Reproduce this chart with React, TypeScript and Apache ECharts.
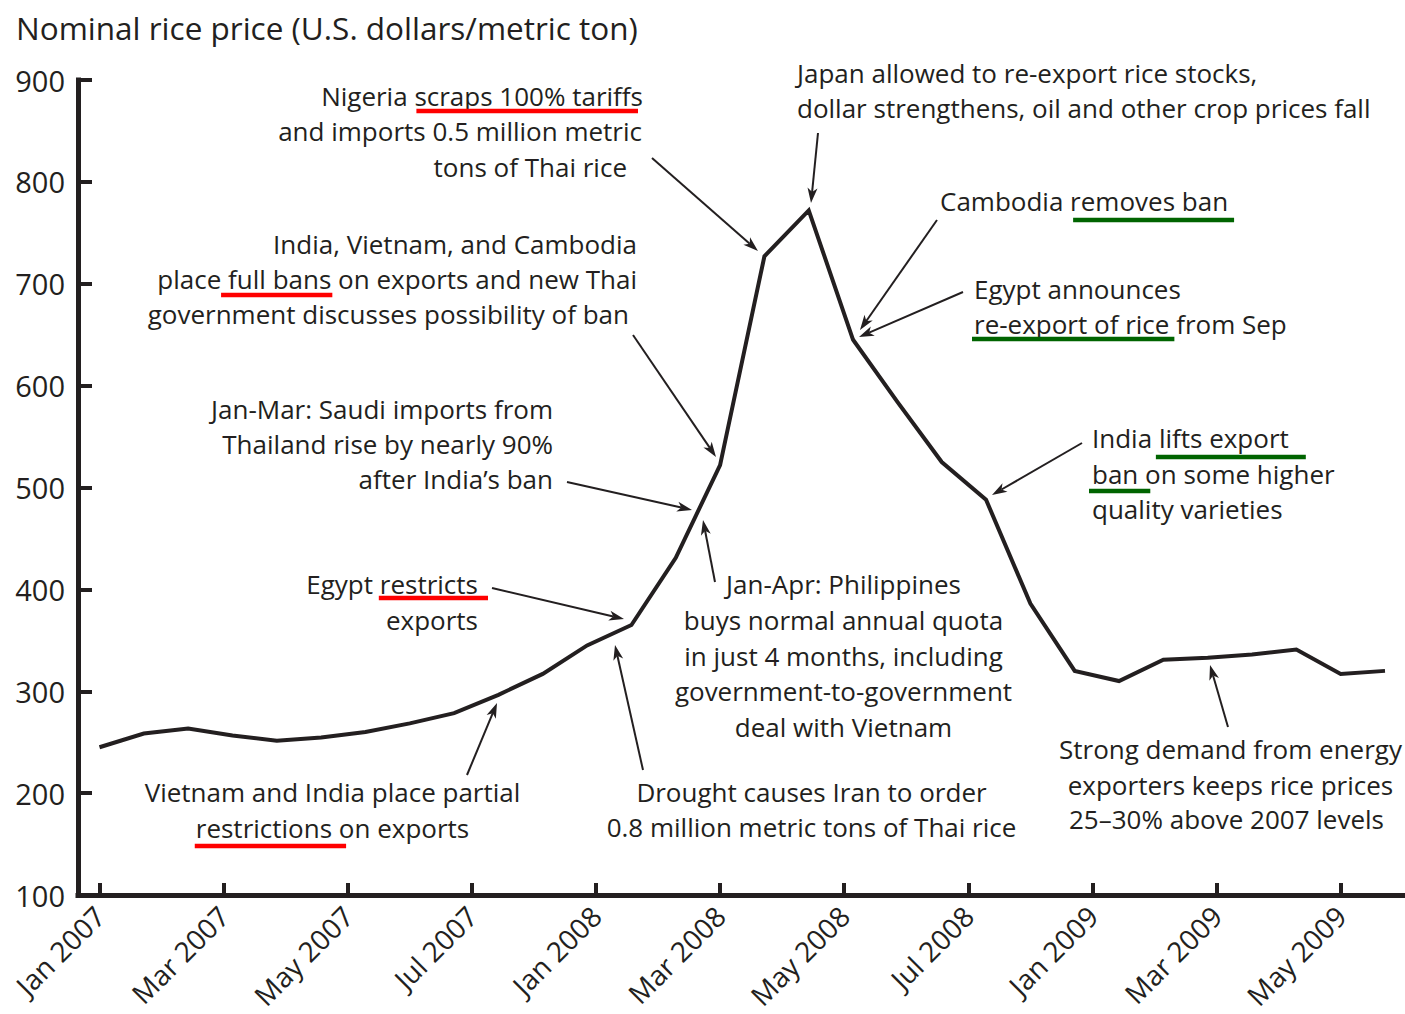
import React, { useEffect, useRef } from "react";
import * as echarts from "echarts";

// Monthly nominal rice price, Jan 2007 .. Jun 2009 (U.S. dollars/metric ton)
const months = [
  "Jan 2007", "Feb 2007", "Mar 2007", "Apr 2007", "May 2007", "Jun 2007",
  "Jul 2007", "Aug 2007", "Sep 2007", "Oct 2007", "Nov 2007", "Dec 2007",
  "Jan 2008", "Feb 2008", "Mar 2008", "Apr 2008", "May 2008", "Jun 2008",
  "Jul 2008", "Aug 2008", "Sep 2008", "Oct 2008", "Nov 2008", "Dec 2008",
  "Jan 2009", "Feb 2009", "Mar 2009", "Apr 2009", "May 2009", "Jun 2009",
];
const prices = [
  245, 258.5, 263.5, 256.5, 251.5, 254.5, 260, 268.5, 278.5, 296.5, 317, 345,
  365, 431, 522, 727, 772, 645, 584, 525, 488, 386, 320, 310, 331, 333, 336,
  341, 317, 320,
];
const xTickLabels = [
  "Jan 2007", "Mar 2007", "May 2007", "Jul 2007", "Jan 2008", "Mar 2008",
  "May 2008", "Jul 2008", "Jan 2009", "Mar 2009", "May 2009",
];
const xTickPositions = [0, 2.8, 5.6, 8.4, 11.2, 14, 16.8, 19.6, 22.4, 25.2, 28];

const INK = "#231f20";
const RED = "#ff0000";
const GREEN = "#006400";
const FONT = '"Open Sans"';
const NOTE_SIZE = 26;

type UL = [string, string, number, number, number];
type Note = { t: string; x: number; y: number; a: "left" | "right" | "center"; u?: UL[] };

const notes: Note[] = [
  { t: "Nigeria scraps 100% tariffs", x: 643, y: 96, a: "right", u: [["scraps 100% tariffs", RED, -2, -5, 15]] },
  { t: "and imports 0.5 million metric", x: 642, y: 131, a: "right" },
  { t: "tons of Thai rice", x: 627, y: 167, a: "right" },
  { t: "Japan allowed to re-export rice stocks,", x: 797, y: 72.5, a: "left" },
  { t: "dollar strengthens, oil and other crop prices fall", x: 797, y: 107.5, a: "left" },
  { t: "Cambodia removes ban", x: 940, y: 201, a: "left", u: [["removes ban", GREEN, -3, 6, 19]] },
  { t: "Egypt announces", x: 974, y: 289, a: "left" },
  { t: "re-export of rice from Sep", x: 974, y: 324, a: "left", u: [["re-export of rice", GREEN, 2, 5, 15]] },
  { t: "India, Vietnam, and Cambodia", x: 637, y: 244, a: "right" },
  { t: "place full bans on exports and new Thai", x: 637, y: 278.5, a: "right", u: [["full bans", RED, 7, 1, 16.5]] },
  { t: "government discusses possibility of ban", x: 629, y: 314, a: "right" },
  { t: "Jan-Mar: Saudi imports from", x: 553, y: 409, a: "right" },
  { t: "Thailand rise by nearly 90%", x: 553, y: 444, a: "right" },
  { t: "after India\u2019s ban", x: 553, y: 479, a: "right" },
  { t: "Egypt restricts", x: 478, y: 584, a: "right", u: [["restricts", RED, 1, 10, 14]] },
  { t: "exports", x: 478, y: 620, a: "right" },
  { t: "Jan-Apr: Philippines", x: 843.5, y: 584, a: "center" },
  { t: "buys normal annual quota", x: 843.5, y: 620, a: "center" },
  { t: "in just 4 months, including", x: 843.5, y: 655.5, a: "center" },
  { t: "government-to-government", x: 843.5, y: 691, a: "center" },
  { t: "deal with Vietnam", x: 843.5, y: 726.5, a: "center" },
  { t: "Vietnam and India place partial", x: 332.5, y: 792, a: "center" },
  { t: "restrictions on exports", x: 332.5, y: 828, a: "center", u: [["restrictions", RED, 1, 14, 18]] },
  { t: "Drought causes Iran to order", x: 811.5, y: 792, a: "center" },
  { t: "0.8 million metric tons of Thai rice", x: 811.5, y: 827, a: "center" },
  { t: "India lifts export", x: 1092, y: 438, a: "left", u: [["lifts export", GREEN, 3, 17, 19]] },
  { t: "ban on some higher", x: 1092, y: 474, a: "left", u: [["ban", GREEN, 3, 12, 17]] },
  { t: "quality varieties", x: 1092, y: 509, a: "left" },
  { t: "Strong demand from energy", x: 1230.5, y: 749, a: "center" },
  { t: "exporters keeps rice prices", x: 1230.5, y: 784.5, a: "center" },
  { t: "25\u201330% above 2007 levels", x: 1226.5, y: 819, a: "center" },
];

const arrows: [number, number, number, number][] = [
  [652, 158, 758, 251],
  [818, 133, 811, 203],
  [937, 220, 860, 330],
  [963, 292, 859, 337],
  [633, 335, 716, 457],
  [567, 482, 692, 510],
  [715, 582, 703, 520],
  [492, 588, 624, 619],
  [467, 775, 497, 703],
  [643, 770, 615, 645],
  [1082, 443, 992, 495],
  [1228, 727, 1210, 665],
];

function buildGraphics() {
  const canvas = document.createElement("canvas");
  const ctx = canvas.getContext("2d")!;
  const font = `${NOTE_SIZE}px ${FONT}`;
  ctx.font = font;
  const w = (s: string) => ctx.measureText(s).width;
  const els: any[] = [];
  els.push({
    type: "text",
    style: {
      text: "Nominal rice price (U.S. dollars/metric ton)",
      x: 16, y: 27, font: `31.5px ${FONT}`, fill: INK,
      align: "left", verticalAlign: "middle", textAlign: "left", textVerticalAlign: "middle",
    },
  });
  for (const n of notes) {
    els.push({
      type: "text",
      style: {
        text: n.t, x: n.x, y: n.y, font, fill: INK,
        align: n.a, verticalAlign: "middle", textAlign: n.a, textVerticalAlign: "middle",
      },
    });
    if (n.u) {
      const W = w(n.t);
      const left = n.a === "left" ? n.x : n.a === "right" ? n.x - W : n.x - W / 2;
      for (const [sub, color, extL, extR, dy] of n.u) {
        const idx = n.t.indexOf(sub);
        const x1 = left + w(n.t.slice(0, idx)) - extL;
        const x2 = left + w(n.t.slice(0, idx + sub.length)) + extR;
        els.push({
          type: "rect",
          shape: { x: x1, y: n.y + dy - 2.25, width: x2 - x1, height: 4.5 },
          style: { fill: color },
        });
      }
    }
  }
  for (const [x1, y1, x2, y2] of arrows) {
    const dx = x2 - x1, dy = y2 - y1;
    const len = Math.hypot(dx, dy);
    const ux = dx / len, uy = dy / len, nx = -uy, ny = ux;
    const L = 15, H = 5, N = 11;
    els.push({
      type: "line",
      shape: { x1, y1, x2: x2 - ux * N, y2: y2 - uy * N },
      style: { stroke: INK, lineWidth: 2 },
    });
    els.push({
      type: "polygon",
      shape: {
        points: [
          [x2, y2],
          [x2 - ux * L + nx * H, y2 - uy * L + ny * H],
          [x2 - ux * N, y2 - uy * N],
          [x2 - ux * L - nx * H, y2 - uy * L - ny * H],
        ],
      },
      style: { fill: INK },
    });
  }
  return els;
}

export default function App() {
  const ref = useRef<HTMLDivElement>(null);
  useEffect(() => {
    document.body.style.margin = "0";
    document.body.style.overflow = "hidden";
    const chart = echarts.init(ref.current!, null, { renderer: "svg" });
    const option: any = {
      animation: false,
      backgroundColor: "#ffffff",
      grid: { left: 78, right: 2, top: 80, bottom: 119, outerBoundsMode: "none" },
      xAxis: {
        type: "value",
        min: -0.485,
        max: 29.406,
        axisLine: { show: true, onZero: false, lineStyle: { color: INK, width: 5, cap: "square" } },
        axisTick: {
          show: true, inside: true, length: 12,
          customValues: xTickPositions,
          lineStyle: { color: INK, width: 4 },
        },
        axisLabel: {
          customValues: xTickPositions,
          rotate: 45,
          margin: 16,
          fontSize: 28,
          fontFamily: FONT,
          color: INK,
          formatter: (v: number) => {
            const i = xTickPositions.findIndex((p) => Math.abs(p - v) < 1e-6);
            return i >= 0 ? xTickLabels[i] : "";
          },
        },
        splitLine: { show: false },
      },
      yAxis: {
        type: "value",
        min: 100,
        max: 900,
        interval: 100,
        axisLine: { show: true, onZero: false, lineStyle: { color: INK, width: 5, cap: "square" } },
        axisTick: { show: true, inside: true, length: 14, lineStyle: { color: INK, width: 4 } },
        axisLabel: { fontSize: 29, fontFamily: FONT, color: INK, margin: 13 },
        splitLine: { show: false },
      },
      series: [
        {
          type: "line",
          name: "Nominal rice price",
          data: prices.map((v, i) => [i, v]),
          showSymbol: false,
          symbol: "none",
          lineStyle: { color: INK, width: 4, join: "miter" },
          z: 3,
        },
      ],
      graphic: { elements: buildGraphics() },
    };
    chart.setOption(option);
    return () => chart.dispose();
  }, []);
  return (
    <div
      ref={ref}
      style={{ position: "absolute", left: 0, top: 0, width: 1405, height: 1014 }}
    />
  );
}
